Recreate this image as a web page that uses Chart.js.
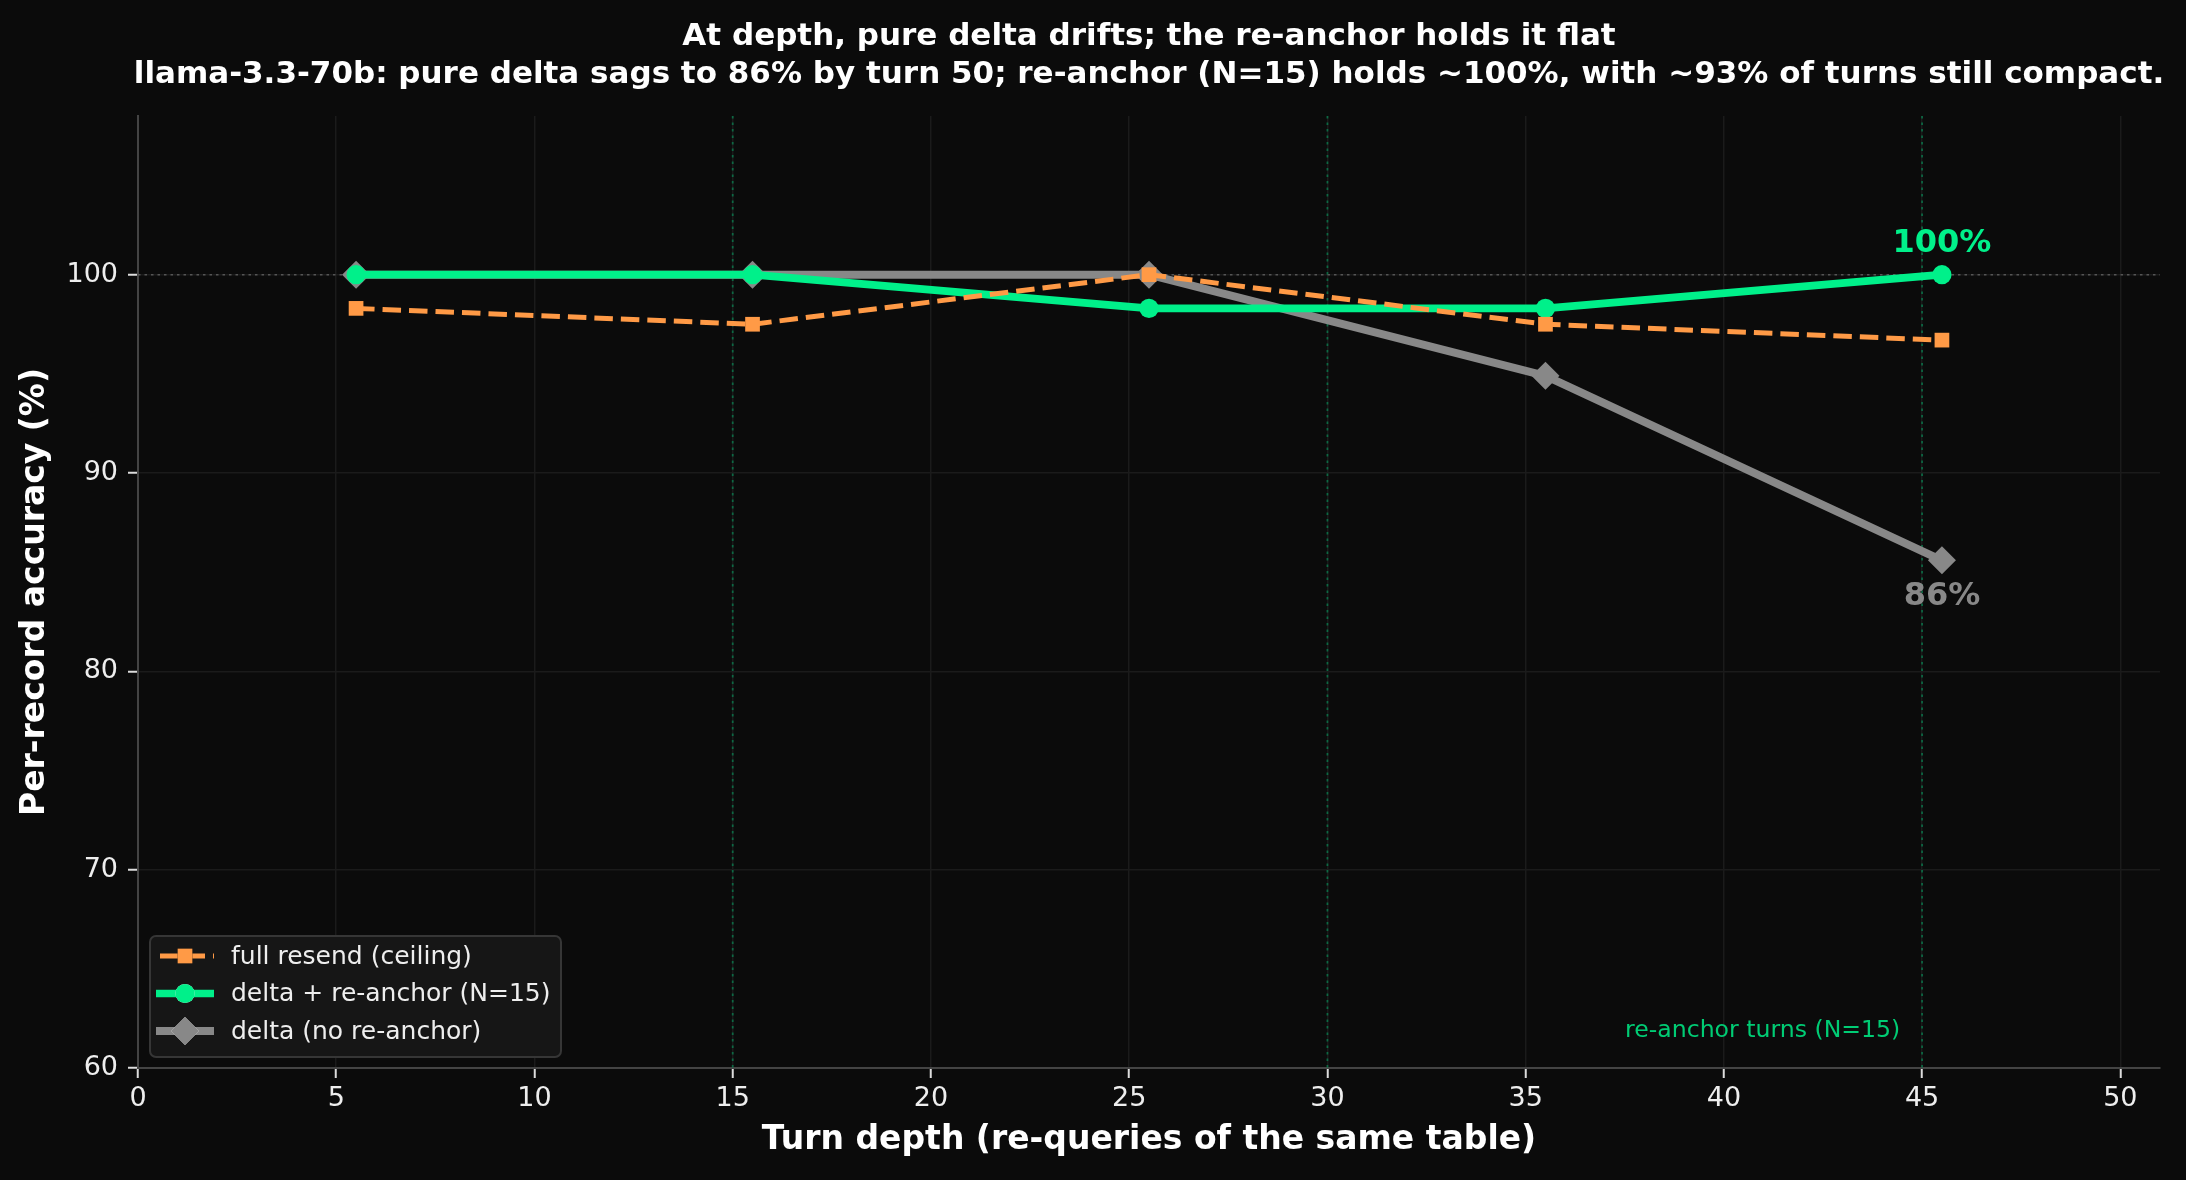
<!DOCTYPE html>
<html><head><meta charset="utf-8">
<script src="https://cdn.jsdelivr.net/npm/chart.js@4.4.1/dist/chart.umd.min.js"></script>
<style>html,body{margin:0;padding:0;background:#0b0b0b;overflow:hidden}#wrap{width:2186px;height:1180px;position:relative}</style>
</head><body><div id="wrap"><canvas id="c" width="2186" height="1180"></canvas></div>
<script>
// ---- data ----
const turns = [5.5, 15.5, 25.5, 35.5, 45.5];
const fullResend = [98.3, 97.5, 100, 97.5, 96.7];
const deltaReanchor = [100, 100, 98.3, 98.3, 100];
const deltaPure = [100, 100, 100, 94.9, 85.6];
const reanchorTurns = [15, 30, 45];
const xTicks = [0, 5, 10, 15, 20, 25, 30, 35, 40, 45, 50];
const yTicks = [60, 70, 80, 90, 100];
const seriesNames = ['full resend (ceiling)', 'delta + re-anchor (N=15)', 'delta (no re-anchor)'];
const titleLines = ['At depth, pure delta drifts; the re-anchor holds it flat',
  'llama-3.3-70b: pure delta sags to 86% by turn 50; re-anchor (N=15) holds ~100%, with ~93% of turns still compact.'];
const xLabel = 'Turn depth (re-queries of the same table)';
const yLabel = 'Per-record accuracy (%)';
const refLineY = 100;
const reanchorNote = 're-anchor turns (N=15)';
const endLabels = [{text: '100%', series: 1}, {text: '86%', series: 2}];

const FONT = '"DejaVu Sans", sans-serif';
const ORANGE = '#ff9a46', GREEN = '#00f08a', GRAY = '#888888';
const pts = arr => turns.map((t, i) => ({x: t, y: arr[i]}));

const bgPlugin = {
  id: 'bg',
  beforeDraw(chart) {
    const c = chart.ctx; c.save(); c.fillStyle = '#0b0b0b';
    c.fillRect(0, 0, chart.width, chart.height); c.restore();
  },
  beforeDatasetsDraw(chart) {
    const c = chart.ctx, a = chart.chartArea, xs = chart.scales.x, ys = chart.scales.y;
    c.save();
    c.strokeStyle = '#555'; c.lineWidth = 1.5; c.setLineDash([2.5, 4]);
    const y100 = ys.getPixelForValue(refLineY);
    c.beginPath(); c.moveTo(a.left, y100); c.lineTo(a.right, y100); c.stroke();
    c.strokeStyle = 'rgba(0,200,120,0.45)'; c.lineWidth = 1.8; c.setLineDash([2.5, 4]);
    reanchorTurns.forEach(t => {
      const x = xs.getPixelForValue(t);
      c.beginPath(); c.moveTo(x, a.top); c.lineTo(x, a.bottom); c.stroke();
    });
    c.restore();
  },
  afterDraw(chart) {
    const c = chart.ctx, a = chart.chartArea, xs = chart.scales.x, ys = chart.scales.y;
    const ds = chart.data.datasets;
    c.save();
    c.fillStyle = '#ffffff'; c.textAlign = 'center'; c.textBaseline = 'middle';
    c.font = 'bold 31px ' + FONT;
    const cx = (a.left + a.right) / 2;
    c.fillText(titleLines[0], cx, 37);
    c.fillText(titleLines[1], cx, 75);
    c.font = 'bold 33px ' + FONT;
    c.fillText(xLabel, cx, 1140);
    c.save(); c.translate(35, (a.top + a.bottom) / 2); c.rotate(-Math.PI / 2);
    c.fillText(yLabel, 0, 0); c.restore();
    c.font = 'bold 32px ' + FONT;
    const lastI = turns.length - 1;
    const l1 = ds[endLabels[0].series];
    c.fillStyle = GREEN;
    c.fillText(endLabels[0].text, xs.getPixelForValue(turns[lastI]), ys.getPixelForValue(l1.data[lastI].y) - 31);
    const l2 = ds[endLabels[1].series];
    c.fillStyle = GRAY;
    c.fillText(endLabels[1].text, xs.getPixelForValue(turns[lastI]), ys.getPixelForValue(l2.data[lastI].y) + 36);
    c.font = '23.6px ' + FONT; c.fillStyle = '#00cc74'; c.textAlign = 'right';
    c.fillText(reanchorNote, xs.getPixelForValue(44.45), 1031);
    // legend
    const lx = 150, ly = 936, lw = 411, lh = 121;
    c.fillStyle = '#161616'; c.strokeStyle = '#363636'; c.lineWidth = 2;
    c.beginPath(); c.roundRect(lx, ly, lw, lh, 6); c.fill(); c.stroke();
    c.textAlign = 'left'; c.font = '25px ' + FONT;
    ds.forEach((d, i) => {
      const yy = 956 + i * 37.5;
      c.save();
      c.strokeStyle = d.borderColor; c.lineWidth = d.borderWidth;
      c.setLineDash(d.borderDash || []);
      c.lineDashOffset = d.borderDash ? 22.5 : 0;
      c.beginPath(); c.moveTo(156, yy); c.lineTo(214, yy); c.stroke();
      c.setLineDash([]);
      Chart.helpers.drawPoint(c, {pointStyle: d.pointStyle, radius: d.pointRadius, borderWidth: 0}, 185, yy);
      c.fillStyle = d.pointBackgroundColor; c.fill();
      c.restore();
      c.fillStyle = '#eeeeee';
      c.fillText(d.label, 231, yy + 1);
    });
    c.restore();
  }
};

const tickFont = {family: FONT, size: 27};
new Chart(document.getElementById('c'), {
  type: 'line',
  data: {
    datasets: [
      {label: seriesNames[0], data: pts(fullResend), borderColor: ORANGE, backgroundColor: ORANGE,
       pointBackgroundColor: ORANGE, pointBorderWidth: 0, borderWidth: 5, borderDash: [18.5, 8],
       pointStyle: 'rect', pointRadius: 10.4, tension: 0},
      {label: seriesNames[1], data: pts(deltaReanchor), borderColor: GREEN, backgroundColor: GREEN,
       pointBackgroundColor: GREEN, pointBorderWidth: 0, borderWidth: 7.7,
       pointStyle: 'circle', pointRadius: 9.6, tension: 0},
      {label: seriesNames[2], data: pts(deltaPure), borderColor: GRAY, backgroundColor: GRAY,
       pointBackgroundColor: GRAY, pointBorderWidth: 0, borderWidth: 8,
       pointStyle: 'rectRot', pointRadius: 14, tension: 0}
    ]
  },
  options: {
    responsive: false, animation: false, devicePixelRatio: 1,
    layout: {padding: {top: 116, right: 26, left: 0, bottom: 0}},
    plugins: {legend: {display: false}, title: {display: false}, tooltip: {enabled: false}},
    elements: {line: {borderCapStyle: 'butt', borderJoinStyle: 'round'}},
    scales: {
      x: {type: 'linear', min: 0, max: 51,
        afterBuildTicks: s => { s.ticks = xTicks.map(v => ({value: v})); },
        afterFit: s => { s.height = 112; },
        grid: {color: '#1b1b1b', lineWidth: 1.5, tickColor: '#dddddd', tickLength: 10, tickWidth: 2},
        border: {color: '#444444', width: 2},
        ticks: {color: '#eeeeee', font: tickFont, padding: 5, maxRotation: 0, autoSkip: false}},
      y: {type: 'linear', min: 60, max: 108,
        afterBuildTicks: s => { s.ticks = yTicks.map(v => ({value: v})); },
        afterFit: s => { s.width = 138; },
        grid: {color: '#1b1b1b', lineWidth: 1.5, tickColor: '#dddddd', tickLength: 10, tickWidth: 2},
        border: {color: '#444444', width: 2},
        ticks: {color: '#eeeeee', font: tickFont, padding: 10, autoSkip: false}}
    }
  },
  plugins: [bgPlugin]
});
</script></body></html>
